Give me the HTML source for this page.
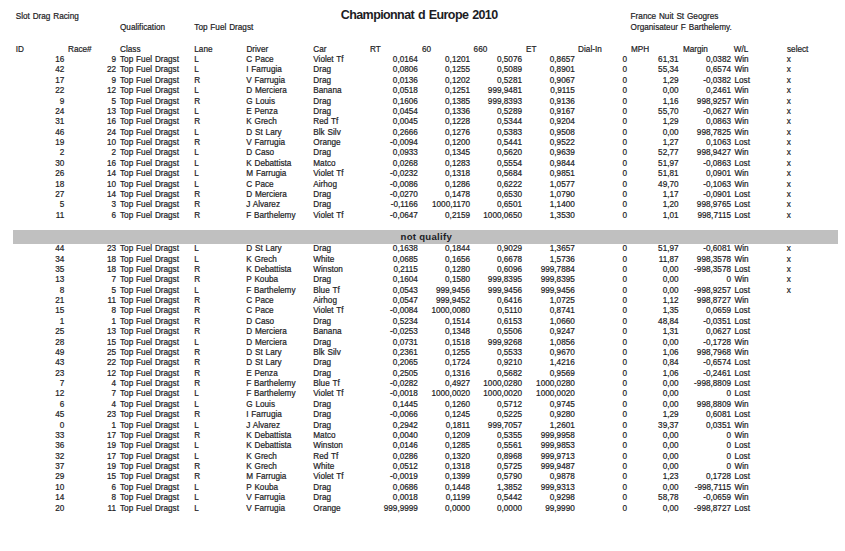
<!DOCTYPE html>
<html><head><meta charset="utf-8"><style>
html,body{margin:0;padding:0;background:#fff;}
body{width:845px;height:551px;position:relative;overflow:hidden;font-family:"Liberation Sans",sans-serif;color:#1c1c24;}
.t,.r,.title,.nq{position:absolute;white-space:nowrap;font-size:8.2px;line-height:10px;}
.r{width:100px;text-align:right;}
.t,.r{-webkit-text-stroke:0.2px #1c1c24;word-spacing:0.6px;}
.title{font-weight:bold;font-size:12.5px;line-height:16px;letter-spacing:-0.6px;word-spacing:1px;}
.nq{font-weight:bold;font-size:9.6px;letter-spacing:0.28px;}
.bar{position:absolute;left:13px;top:230px;width:825px;height:13.7px;background:#c0c0c0;}
</style></head><body>
<div class="bar"></div>
<div class="title" style="left:340.8px;top:6.77px">Championnat d Europe 2010</div>
<div class="nq" style="left:400.5px;top:232.27px">not qualify</div>
<div class="t" style="left:15.70px;top:11.76px">Slot Drag Racing</div>
<div class="t" style="left:120.00px;top:22.76px">Qualification</div>
<div class="t" style="left:194.30px;top:22.76px">Top Fuel Dragst</div>
<div class="t" style="left:630.60px;top:11.76px">France Nuit St Geogres</div>
<div class="t" style="left:630.60px;top:22.76px">Organisateur F Barthelemy.</div>
<div class="t" style="left:15.70px;top:45.16px">ID</div>
<div class="t" style="left:68.00px;top:45.16px">Race#</div>
<div class="t" style="left:120.00px;top:45.16px">Class</div>
<div class="t" style="left:194.30px;top:45.16px">Lane</div>
<div class="t" style="left:246.40px;top:45.16px">Driver</div>
<div class="t" style="left:313.30px;top:45.16px">Car</div>
<div class="t" style="left:370.00px;top:45.16px">RT</div>
<div class="t" style="left:422.00px;top:45.16px">60</div>
<div class="t" style="left:473.60px;top:45.16px">660</div>
<div class="t" style="left:526.00px;top:45.16px">ET</div>
<div class="t" style="left:578.10px;top:45.16px">Dial-In</div>
<div class="t" style="left:630.90px;top:45.16px">MPH</div>
<div class="t" style="left:682.90px;top:45.16px">Margin</div>
<div class="t" style="left:733.70px;top:45.16px">W/L</div>
<div class="t" style="left:787.00px;top:45.16px">select</div>
<div class="r" style="left:-35.70px;top:55.16px">16</div>
<div class="r" style="left:16.00px;top:55.16px">9</div>
<div class="t" style="left:120.00px;top:55.16px">Top Fuel Dragst</div>
<div class="t" style="left:194.30px;top:55.16px">L</div>
<div class="t" style="left:246.20px;top:55.16px">C Pace</div>
<div class="t" style="left:313.30px;top:55.16px">Violet Tf</div>
<div class="r" style="left:317.90px;top:55.16px">0,0164</div>
<div class="r" style="left:370.10px;top:55.16px">0,1201</div>
<div class="r" style="left:422.00px;top:55.16px">0,5076</div>
<div class="r" style="left:474.80px;top:55.16px">0,8657</div>
<div class="r" style="left:527.00px;top:55.16px">0</div>
<div class="r" style="left:578.60px;top:55.16px">61,31</div>
<div class="r" style="left:631.00px;top:55.16px">0,0382</div>
<div class="t" style="left:734.50px;top:55.16px">Win</div>
<div class="t" style="left:786.70px;top:55.16px">x</div>
<div class="r" style="left:-35.70px;top:65.16px">42</div>
<div class="r" style="left:16.00px;top:65.16px">22</div>
<div class="t" style="left:120.00px;top:65.16px">Top Fuel Dragst</div>
<div class="t" style="left:194.30px;top:65.16px">L</div>
<div class="t" style="left:246.20px;top:65.16px">I Farrugia</div>
<div class="t" style="left:313.30px;top:65.16px">Drag</div>
<div class="r" style="left:317.90px;top:65.16px">0,0806</div>
<div class="r" style="left:370.10px;top:65.16px">0,1255</div>
<div class="r" style="left:422.00px;top:65.16px">0,5089</div>
<div class="r" style="left:474.80px;top:65.16px">0,8901</div>
<div class="r" style="left:527.00px;top:65.16px">0</div>
<div class="r" style="left:578.60px;top:65.16px">55,34</div>
<div class="r" style="left:631.00px;top:65.16px">0,6574</div>
<div class="t" style="left:734.50px;top:65.16px">Win</div>
<div class="t" style="left:786.70px;top:65.16px">x</div>
<div class="r" style="left:-35.70px;top:76.16px">17</div>
<div class="r" style="left:16.00px;top:76.16px">9</div>
<div class="t" style="left:120.00px;top:76.16px">Top Fuel Dragst</div>
<div class="t" style="left:194.30px;top:76.16px">R</div>
<div class="t" style="left:246.20px;top:76.16px">V Farrugia</div>
<div class="t" style="left:313.30px;top:76.16px">Drag</div>
<div class="r" style="left:317.90px;top:76.16px">0,0136</div>
<div class="r" style="left:370.10px;top:76.16px">0,1202</div>
<div class="r" style="left:422.00px;top:76.16px">0,5281</div>
<div class="r" style="left:474.80px;top:76.16px">0,9067</div>
<div class="r" style="left:527.00px;top:76.16px">0</div>
<div class="r" style="left:578.60px;top:76.16px">1,29</div>
<div class="r" style="left:631.00px;top:76.16px">-0,0382</div>
<div class="t" style="left:734.50px;top:76.16px">Lost</div>
<div class="t" style="left:786.70px;top:76.16px">x</div>
<div class="r" style="left:-35.70px;top:86.16px">22</div>
<div class="r" style="left:16.00px;top:86.16px">12</div>
<div class="t" style="left:120.00px;top:86.16px">Top Fuel Dragst</div>
<div class="t" style="left:194.30px;top:86.16px">L</div>
<div class="t" style="left:246.20px;top:86.16px">D Merciera</div>
<div class="t" style="left:313.30px;top:86.16px">Banana</div>
<div class="r" style="left:317.90px;top:86.16px">0,0518</div>
<div class="r" style="left:370.10px;top:86.16px">0,1251</div>
<div class="r" style="left:422.00px;top:86.16px">999,9481</div>
<div class="r" style="left:474.80px;top:86.16px">0,9115</div>
<div class="r" style="left:527.00px;top:86.16px">0</div>
<div class="r" style="left:578.60px;top:86.16px">0,00</div>
<div class="r" style="left:631.00px;top:86.16px">0,2461</div>
<div class="t" style="left:734.50px;top:86.16px">Win</div>
<div class="t" style="left:786.70px;top:86.16px">x</div>
<div class="r" style="left:-35.70px;top:97.16px">9</div>
<div class="r" style="left:16.00px;top:97.16px">5</div>
<div class="t" style="left:120.00px;top:97.16px">Top Fuel Dragst</div>
<div class="t" style="left:194.30px;top:97.16px">R</div>
<div class="t" style="left:246.20px;top:97.16px">G Louis</div>
<div class="t" style="left:313.30px;top:97.16px">Drag</div>
<div class="r" style="left:317.90px;top:97.16px">0,1606</div>
<div class="r" style="left:370.10px;top:97.16px">0,1385</div>
<div class="r" style="left:422.00px;top:97.16px">999,8393</div>
<div class="r" style="left:474.80px;top:97.16px">0,9136</div>
<div class="r" style="left:527.00px;top:97.16px">0</div>
<div class="r" style="left:578.60px;top:97.16px">1,16</div>
<div class="r" style="left:631.00px;top:97.16px">998,9257</div>
<div class="t" style="left:734.50px;top:97.16px">Win</div>
<div class="t" style="left:786.70px;top:97.16px">x</div>
<div class="r" style="left:-35.70px;top:107.16px">24</div>
<div class="r" style="left:16.00px;top:107.16px">13</div>
<div class="t" style="left:120.00px;top:107.16px">Top Fuel Dragst</div>
<div class="t" style="left:194.30px;top:107.16px">L</div>
<div class="t" style="left:246.20px;top:107.16px">E Penza</div>
<div class="t" style="left:313.30px;top:107.16px">Drag</div>
<div class="r" style="left:317.90px;top:107.16px">0,0454</div>
<div class="r" style="left:370.10px;top:107.16px">0,1336</div>
<div class="r" style="left:422.00px;top:107.16px">0,5289</div>
<div class="r" style="left:474.80px;top:107.16px">0,9167</div>
<div class="r" style="left:527.00px;top:107.16px">0</div>
<div class="r" style="left:578.60px;top:107.16px">55,70</div>
<div class="r" style="left:631.00px;top:107.16px">-0,0627</div>
<div class="t" style="left:734.50px;top:107.16px">Win</div>
<div class="t" style="left:786.70px;top:107.16px">x</div>
<div class="r" style="left:-35.70px;top:117.16px">31</div>
<div class="r" style="left:16.00px;top:117.16px">16</div>
<div class="t" style="left:120.00px;top:117.16px">Top Fuel Dragst</div>
<div class="t" style="left:194.30px;top:117.16px">R</div>
<div class="t" style="left:246.20px;top:117.16px">K Grech</div>
<div class="t" style="left:313.30px;top:117.16px">Red Tf</div>
<div class="r" style="left:317.90px;top:117.16px">0,0045</div>
<div class="r" style="left:370.10px;top:117.16px">0,1228</div>
<div class="r" style="left:422.00px;top:117.16px">0,5344</div>
<div class="r" style="left:474.80px;top:117.16px">0,9204</div>
<div class="r" style="left:527.00px;top:117.16px">0</div>
<div class="r" style="left:578.60px;top:117.16px">1,29</div>
<div class="r" style="left:631.00px;top:117.16px">0,0863</div>
<div class="t" style="left:734.50px;top:117.16px">Win</div>
<div class="t" style="left:786.70px;top:117.16px">x</div>
<div class="r" style="left:-35.70px;top:128.16px">46</div>
<div class="r" style="left:16.00px;top:128.16px">24</div>
<div class="t" style="left:120.00px;top:128.16px">Top Fuel Dragst</div>
<div class="t" style="left:194.30px;top:128.16px">L</div>
<div class="t" style="left:246.20px;top:128.16px">D St Lary</div>
<div class="t" style="left:313.30px;top:128.16px">Blk Silv</div>
<div class="r" style="left:317.90px;top:128.16px">0,2666</div>
<div class="r" style="left:370.10px;top:128.16px">0,1276</div>
<div class="r" style="left:422.00px;top:128.16px">0,5383</div>
<div class="r" style="left:474.80px;top:128.16px">0,9508</div>
<div class="r" style="left:527.00px;top:128.16px">0</div>
<div class="r" style="left:578.60px;top:128.16px">0,00</div>
<div class="r" style="left:631.00px;top:128.16px">998,7825</div>
<div class="t" style="left:734.50px;top:128.16px">Win</div>
<div class="t" style="left:786.70px;top:128.16px">x</div>
<div class="r" style="left:-35.70px;top:138.16px">19</div>
<div class="r" style="left:16.00px;top:138.16px">10</div>
<div class="t" style="left:120.00px;top:138.16px">Top Fuel Dragst</div>
<div class="t" style="left:194.30px;top:138.16px">R</div>
<div class="t" style="left:246.20px;top:138.16px">V Farrugia</div>
<div class="t" style="left:313.30px;top:138.16px">Orange</div>
<div class="r" style="left:317.90px;top:138.16px">-0,0094</div>
<div class="r" style="left:370.10px;top:138.16px">0,1200</div>
<div class="r" style="left:422.00px;top:138.16px">0,5441</div>
<div class="r" style="left:474.80px;top:138.16px">0,9522</div>
<div class="r" style="left:527.00px;top:138.16px">0</div>
<div class="r" style="left:578.60px;top:138.16px">1,27</div>
<div class="r" style="left:631.00px;top:138.16px">0,1063</div>
<div class="t" style="left:734.50px;top:138.16px">Lost</div>
<div class="t" style="left:786.70px;top:138.16px">x</div>
<div class="r" style="left:-35.70px;top:148.16px">2</div>
<div class="r" style="left:16.00px;top:148.16px">2</div>
<div class="t" style="left:120.00px;top:148.16px">Top Fuel Dragst</div>
<div class="t" style="left:194.30px;top:148.16px">L</div>
<div class="t" style="left:246.20px;top:148.16px">D Caso</div>
<div class="t" style="left:313.30px;top:148.16px">Drag</div>
<div class="r" style="left:317.90px;top:148.16px">0,0933</div>
<div class="r" style="left:370.10px;top:148.16px">0,1345</div>
<div class="r" style="left:422.00px;top:148.16px">0,5620</div>
<div class="r" style="left:474.80px;top:148.16px">0,9639</div>
<div class="r" style="left:527.00px;top:148.16px">0</div>
<div class="r" style="left:578.60px;top:148.16px">52,77</div>
<div class="r" style="left:631.00px;top:148.16px">998,9427</div>
<div class="t" style="left:734.50px;top:148.16px">Win</div>
<div class="t" style="left:786.70px;top:148.16px">x</div>
<div class="r" style="left:-35.70px;top:159.16px">30</div>
<div class="r" style="left:16.00px;top:159.16px">16</div>
<div class="t" style="left:120.00px;top:159.16px">Top Fuel Dragst</div>
<div class="t" style="left:194.30px;top:159.16px">L</div>
<div class="t" style="left:246.20px;top:159.16px">K Debattista</div>
<div class="t" style="left:313.30px;top:159.16px">Matco</div>
<div class="r" style="left:317.90px;top:159.16px">0,0268</div>
<div class="r" style="left:370.10px;top:159.16px">0,1283</div>
<div class="r" style="left:422.00px;top:159.16px">0,5554</div>
<div class="r" style="left:474.80px;top:159.16px">0,9844</div>
<div class="r" style="left:527.00px;top:159.16px">0</div>
<div class="r" style="left:578.60px;top:159.16px">51,97</div>
<div class="r" style="left:631.00px;top:159.16px">-0,0863</div>
<div class="t" style="left:734.50px;top:159.16px">Lost</div>
<div class="t" style="left:786.70px;top:159.16px">x</div>
<div class="r" style="left:-35.70px;top:169.16px">26</div>
<div class="r" style="left:16.00px;top:169.16px">14</div>
<div class="t" style="left:120.00px;top:169.16px">Top Fuel Dragst</div>
<div class="t" style="left:194.30px;top:169.16px">L</div>
<div class="t" style="left:246.20px;top:169.16px">M Farrugia</div>
<div class="t" style="left:313.30px;top:169.16px">Violet Tf</div>
<div class="r" style="left:317.90px;top:169.16px">-0,0232</div>
<div class="r" style="left:370.10px;top:169.16px">0,1318</div>
<div class="r" style="left:422.00px;top:169.16px">0,5684</div>
<div class="r" style="left:474.80px;top:169.16px">0,9851</div>
<div class="r" style="left:527.00px;top:169.16px">0</div>
<div class="r" style="left:578.60px;top:169.16px">51,81</div>
<div class="r" style="left:631.00px;top:169.16px">0,0901</div>
<div class="t" style="left:734.50px;top:169.16px">Win</div>
<div class="t" style="left:786.70px;top:169.16px">x</div>
<div class="r" style="left:-35.70px;top:180.16px">18</div>
<div class="r" style="left:16.00px;top:180.16px">10</div>
<div class="t" style="left:120.00px;top:180.16px">Top Fuel Dragst</div>
<div class="t" style="left:194.30px;top:180.16px">L</div>
<div class="t" style="left:246.20px;top:180.16px">C Pace</div>
<div class="t" style="left:313.30px;top:180.16px">Airhog</div>
<div class="r" style="left:317.90px;top:180.16px">-0,0086</div>
<div class="r" style="left:370.10px;top:180.16px">0,1286</div>
<div class="r" style="left:422.00px;top:180.16px">0,6222</div>
<div class="r" style="left:474.80px;top:180.16px">1,0577</div>
<div class="r" style="left:527.00px;top:180.16px">0</div>
<div class="r" style="left:578.60px;top:180.16px">49,70</div>
<div class="r" style="left:631.00px;top:180.16px">-0,1063</div>
<div class="t" style="left:734.50px;top:180.16px">Win</div>
<div class="t" style="left:786.70px;top:180.16px">x</div>
<div class="r" style="left:-35.70px;top:190.16px">27</div>
<div class="r" style="left:16.00px;top:190.16px">14</div>
<div class="t" style="left:120.00px;top:190.16px">Top Fuel Dragst</div>
<div class="t" style="left:194.30px;top:190.16px">R</div>
<div class="t" style="left:246.20px;top:190.16px">D Merciera</div>
<div class="t" style="left:313.30px;top:190.16px">Drag</div>
<div class="r" style="left:317.90px;top:190.16px">-0,0270</div>
<div class="r" style="left:370.10px;top:190.16px">0,1478</div>
<div class="r" style="left:422.00px;top:190.16px">0,6530</div>
<div class="r" style="left:474.80px;top:190.16px">1,0790</div>
<div class="r" style="left:527.00px;top:190.16px">0</div>
<div class="r" style="left:578.60px;top:190.16px">1,17</div>
<div class="r" style="left:631.00px;top:190.16px">-0,0901</div>
<div class="t" style="left:734.50px;top:190.16px">Lost</div>
<div class="t" style="left:786.70px;top:190.16px">x</div>
<div class="r" style="left:-35.70px;top:200.16px">5</div>
<div class="r" style="left:16.00px;top:200.16px">3</div>
<div class="t" style="left:120.00px;top:200.16px">Top Fuel Dragst</div>
<div class="t" style="left:194.30px;top:200.16px">R</div>
<div class="t" style="left:246.20px;top:200.16px">J Alvarez</div>
<div class="t" style="left:313.30px;top:200.16px">Drag</div>
<div class="r" style="left:317.90px;top:200.16px">-0,1166</div>
<div class="r" style="left:370.10px;top:200.16px">1000,1170</div>
<div class="r" style="left:422.00px;top:200.16px">0,6501</div>
<div class="r" style="left:474.80px;top:200.16px">1,1400</div>
<div class="r" style="left:527.00px;top:200.16px">0</div>
<div class="r" style="left:578.60px;top:200.16px">1,20</div>
<div class="r" style="left:631.00px;top:200.16px">998,9765</div>
<div class="t" style="left:734.50px;top:200.16px">Lost</div>
<div class="t" style="left:786.70px;top:200.16px">x</div>
<div class="r" style="left:-35.70px;top:211.16px">11</div>
<div class="r" style="left:16.00px;top:211.16px">6</div>
<div class="t" style="left:120.00px;top:211.16px">Top Fuel Dragst</div>
<div class="t" style="left:194.30px;top:211.16px">R</div>
<div class="t" style="left:246.20px;top:211.16px">F Barthelemy</div>
<div class="t" style="left:313.30px;top:211.16px">Violet Tf</div>
<div class="r" style="left:317.90px;top:211.16px">-0,0647</div>
<div class="r" style="left:370.10px;top:211.16px">0,2159</div>
<div class="r" style="left:422.00px;top:211.16px">1000,0650</div>
<div class="r" style="left:474.80px;top:211.16px">1,3530</div>
<div class="r" style="left:527.00px;top:211.16px">0</div>
<div class="r" style="left:578.60px;top:211.16px">1,01</div>
<div class="r" style="left:631.00px;top:211.16px">998,7115</div>
<div class="t" style="left:734.50px;top:211.16px">Lost</div>
<div class="t" style="left:786.70px;top:211.16px">x</div>
<div class="r" style="left:-35.70px;top:244.16px">44</div>
<div class="r" style="left:16.00px;top:244.16px">23</div>
<div class="t" style="left:120.00px;top:244.16px">Top Fuel Dragst</div>
<div class="t" style="left:194.30px;top:244.16px">L</div>
<div class="t" style="left:246.20px;top:244.16px">D St Lary</div>
<div class="t" style="left:313.30px;top:244.16px">Drag</div>
<div class="r" style="left:317.90px;top:244.16px">0,1638</div>
<div class="r" style="left:370.10px;top:244.16px">0,1844</div>
<div class="r" style="left:422.00px;top:244.16px">0,9029</div>
<div class="r" style="left:474.80px;top:244.16px">1,3657</div>
<div class="r" style="left:527.00px;top:244.16px">0</div>
<div class="r" style="left:578.60px;top:244.16px">51,97</div>
<div class="r" style="left:631.00px;top:244.16px">-0,6081</div>
<div class="t" style="left:734.50px;top:244.16px">Win</div>
<div class="t" style="left:786.70px;top:244.16px">x</div>
<div class="r" style="left:-35.70px;top:255.16px">34</div>
<div class="r" style="left:16.00px;top:255.16px">18</div>
<div class="t" style="left:120.00px;top:255.16px">Top Fuel Dragst</div>
<div class="t" style="left:194.30px;top:255.16px">L</div>
<div class="t" style="left:246.20px;top:255.16px">K Grech</div>
<div class="t" style="left:313.30px;top:255.16px">White</div>
<div class="r" style="left:317.90px;top:255.16px">0,0685</div>
<div class="r" style="left:370.10px;top:255.16px">0,1656</div>
<div class="r" style="left:422.00px;top:255.16px">0,6678</div>
<div class="r" style="left:474.80px;top:255.16px">1,5736</div>
<div class="r" style="left:527.00px;top:255.16px">0</div>
<div class="r" style="left:578.60px;top:255.16px">11,87</div>
<div class="r" style="left:631.00px;top:255.16px">998,3578</div>
<div class="t" style="left:734.50px;top:255.16px">Win</div>
<div class="t" style="left:786.70px;top:255.16px">x</div>
<div class="r" style="left:-35.70px;top:265.16px">35</div>
<div class="r" style="left:16.00px;top:265.16px">18</div>
<div class="t" style="left:120.00px;top:265.16px">Top Fuel Dragst</div>
<div class="t" style="left:194.30px;top:265.16px">R</div>
<div class="t" style="left:246.20px;top:265.16px">K Debattista</div>
<div class="t" style="left:313.30px;top:265.16px">Winston</div>
<div class="r" style="left:317.90px;top:265.16px">0,2115</div>
<div class="r" style="left:370.10px;top:265.16px">0,1280</div>
<div class="r" style="left:422.00px;top:265.16px">0,6096</div>
<div class="r" style="left:474.80px;top:265.16px">999,7884</div>
<div class="r" style="left:527.00px;top:265.16px">0</div>
<div class="r" style="left:578.60px;top:265.16px">0,00</div>
<div class="r" style="left:631.00px;top:265.16px">-998,3578</div>
<div class="t" style="left:734.50px;top:265.16px">Lost</div>
<div class="t" style="left:786.70px;top:265.16px">x</div>
<div class="r" style="left:-35.70px;top:275.16px">13</div>
<div class="r" style="left:16.00px;top:275.16px">7</div>
<div class="t" style="left:120.00px;top:275.16px">Top Fuel Dragst</div>
<div class="t" style="left:194.30px;top:275.16px">R</div>
<div class="t" style="left:246.20px;top:275.16px">P Kouba</div>
<div class="t" style="left:313.30px;top:275.16px">Drag</div>
<div class="r" style="left:317.90px;top:275.16px">0,1604</div>
<div class="r" style="left:370.10px;top:275.16px">0,1580</div>
<div class="r" style="left:422.00px;top:275.16px">999,8395</div>
<div class="r" style="left:474.80px;top:275.16px">999,8395</div>
<div class="r" style="left:527.00px;top:275.16px">0</div>
<div class="r" style="left:578.60px;top:275.16px">0,00</div>
<div class="r" style="left:631.00px;top:275.16px">0</div>
<div class="t" style="left:734.50px;top:275.16px">Win</div>
<div class="t" style="left:786.70px;top:275.16px">x</div>
<div class="r" style="left:-35.70px;top:286.16px">8</div>
<div class="r" style="left:16.00px;top:286.16px">5</div>
<div class="t" style="left:120.00px;top:286.16px">Top Fuel Dragst</div>
<div class="t" style="left:194.30px;top:286.16px">L</div>
<div class="t" style="left:246.20px;top:286.16px">F Barthelemy</div>
<div class="t" style="left:313.30px;top:286.16px">Blue Tf</div>
<div class="r" style="left:317.90px;top:286.16px">0,0543</div>
<div class="r" style="left:370.10px;top:286.16px">999,9456</div>
<div class="r" style="left:422.00px;top:286.16px">999,9456</div>
<div class="r" style="left:474.80px;top:286.16px">999,9456</div>
<div class="r" style="left:527.00px;top:286.16px">0</div>
<div class="r" style="left:578.60px;top:286.16px">0,00</div>
<div class="r" style="left:631.00px;top:286.16px">-998,9257</div>
<div class="t" style="left:734.50px;top:286.16px">Lost</div>
<div class="t" style="left:786.70px;top:286.16px">x</div>
<div class="r" style="left:-35.70px;top:296.16px">21</div>
<div class="r" style="left:16.00px;top:296.16px">11</div>
<div class="t" style="left:120.00px;top:296.16px">Top Fuel Dragst</div>
<div class="t" style="left:194.30px;top:296.16px">R</div>
<div class="t" style="left:246.20px;top:296.16px">C Pace</div>
<div class="t" style="left:313.30px;top:296.16px">Airhog</div>
<div class="r" style="left:317.90px;top:296.16px">0,0547</div>
<div class="r" style="left:370.10px;top:296.16px">999,9452</div>
<div class="r" style="left:422.00px;top:296.16px">0,6416</div>
<div class="r" style="left:474.80px;top:296.16px">1,0725</div>
<div class="r" style="left:527.00px;top:296.16px">0</div>
<div class="r" style="left:578.60px;top:296.16px">1,12</div>
<div class="r" style="left:631.00px;top:296.16px">998,8727</div>
<div class="t" style="left:734.50px;top:296.16px">Win</div>
<div class="r" style="left:-35.70px;top:306.16px">15</div>
<div class="r" style="left:16.00px;top:306.16px">8</div>
<div class="t" style="left:120.00px;top:306.16px">Top Fuel Dragst</div>
<div class="t" style="left:194.30px;top:306.16px">R</div>
<div class="t" style="left:246.20px;top:306.16px">C Pace</div>
<div class="t" style="left:313.30px;top:306.16px">Violet Tf</div>
<div class="r" style="left:317.90px;top:306.16px">-0,0084</div>
<div class="r" style="left:370.10px;top:306.16px">1000,0080</div>
<div class="r" style="left:422.00px;top:306.16px">0,5110</div>
<div class="r" style="left:474.80px;top:306.16px">0,8741</div>
<div class="r" style="left:527.00px;top:306.16px">0</div>
<div class="r" style="left:578.60px;top:306.16px">1,35</div>
<div class="r" style="left:631.00px;top:306.16px">0,0659</div>
<div class="t" style="left:734.50px;top:306.16px">Lost</div>
<div class="r" style="left:-35.70px;top:317.16px">1</div>
<div class="r" style="left:16.00px;top:317.16px">1</div>
<div class="t" style="left:120.00px;top:317.16px">Top Fuel Dragst</div>
<div class="t" style="left:194.30px;top:317.16px">R</div>
<div class="t" style="left:246.20px;top:317.16px">D Caso</div>
<div class="t" style="left:313.30px;top:317.16px">Drag</div>
<div class="r" style="left:317.90px;top:317.16px">0,5234</div>
<div class="r" style="left:370.10px;top:317.16px">0,1514</div>
<div class="r" style="left:422.00px;top:317.16px">0,6153</div>
<div class="r" style="left:474.80px;top:317.16px">1,0660</div>
<div class="r" style="left:527.00px;top:317.16px">0</div>
<div class="r" style="left:578.60px;top:317.16px">48,84</div>
<div class="r" style="left:631.00px;top:317.16px">-0,0351</div>
<div class="t" style="left:734.50px;top:317.16px">Lost</div>
<div class="r" style="left:-35.70px;top:327.16px">25</div>
<div class="r" style="left:16.00px;top:327.16px">13</div>
<div class="t" style="left:120.00px;top:327.16px">Top Fuel Dragst</div>
<div class="t" style="left:194.30px;top:327.16px">R</div>
<div class="t" style="left:246.20px;top:327.16px">D Merciera</div>
<div class="t" style="left:313.30px;top:327.16px">Banana</div>
<div class="r" style="left:317.90px;top:327.16px">-0,0253</div>
<div class="r" style="left:370.10px;top:327.16px">0,1348</div>
<div class="r" style="left:422.00px;top:327.16px">0,5506</div>
<div class="r" style="left:474.80px;top:327.16px">0,9247</div>
<div class="r" style="left:527.00px;top:327.16px">0</div>
<div class="r" style="left:578.60px;top:327.16px">1,31</div>
<div class="r" style="left:631.00px;top:327.16px">0,0627</div>
<div class="t" style="left:734.50px;top:327.16px">Lost</div>
<div class="r" style="left:-35.70px;top:338.16px">28</div>
<div class="r" style="left:16.00px;top:338.16px">15</div>
<div class="t" style="left:120.00px;top:338.16px">Top Fuel Dragst</div>
<div class="t" style="left:194.30px;top:338.16px">L</div>
<div class="t" style="left:246.20px;top:338.16px">D Merciera</div>
<div class="t" style="left:313.30px;top:338.16px">Drag</div>
<div class="r" style="left:317.90px;top:338.16px">0,0731</div>
<div class="r" style="left:370.10px;top:338.16px">0,1518</div>
<div class="r" style="left:422.00px;top:338.16px">999,9268</div>
<div class="r" style="left:474.80px;top:338.16px">1,0856</div>
<div class="r" style="left:527.00px;top:338.16px">0</div>
<div class="r" style="left:578.60px;top:338.16px">0,00</div>
<div class="r" style="left:631.00px;top:338.16px">-0,1728</div>
<div class="t" style="left:734.50px;top:338.16px">Win</div>
<div class="r" style="left:-35.70px;top:348.16px">49</div>
<div class="r" style="left:16.00px;top:348.16px">25</div>
<div class="t" style="left:120.00px;top:348.16px">Top Fuel Dragst</div>
<div class="t" style="left:194.30px;top:348.16px">R</div>
<div class="t" style="left:246.20px;top:348.16px">D St Lary</div>
<div class="t" style="left:313.30px;top:348.16px">Blk Silv</div>
<div class="r" style="left:317.90px;top:348.16px">0,2361</div>
<div class="r" style="left:370.10px;top:348.16px">0,1255</div>
<div class="r" style="left:422.00px;top:348.16px">0,5533</div>
<div class="r" style="left:474.80px;top:348.16px">0,9670</div>
<div class="r" style="left:527.00px;top:348.16px">0</div>
<div class="r" style="left:578.60px;top:348.16px">1,06</div>
<div class="r" style="left:631.00px;top:348.16px">998,7968</div>
<div class="t" style="left:734.50px;top:348.16px">Win</div>
<div class="r" style="left:-35.70px;top:358.16px">43</div>
<div class="r" style="left:16.00px;top:358.16px">22</div>
<div class="t" style="left:120.00px;top:358.16px">Top Fuel Dragst</div>
<div class="t" style="left:194.30px;top:358.16px">R</div>
<div class="t" style="left:246.20px;top:358.16px">D St Lary</div>
<div class="t" style="left:313.30px;top:358.16px">Drag</div>
<div class="r" style="left:317.90px;top:358.16px">0,2065</div>
<div class="r" style="left:370.10px;top:358.16px">0,1724</div>
<div class="r" style="left:422.00px;top:358.16px">0,9210</div>
<div class="r" style="left:474.80px;top:358.16px">1,4216</div>
<div class="r" style="left:527.00px;top:358.16px">0</div>
<div class="r" style="left:578.60px;top:358.16px">0,84</div>
<div class="r" style="left:631.00px;top:358.16px">-0,6574</div>
<div class="t" style="left:734.50px;top:358.16px">Lost</div>
<div class="r" style="left:-35.70px;top:369.16px">23</div>
<div class="r" style="left:16.00px;top:369.16px">12</div>
<div class="t" style="left:120.00px;top:369.16px">Top Fuel Dragst</div>
<div class="t" style="left:194.30px;top:369.16px">R</div>
<div class="t" style="left:246.20px;top:369.16px">E Penza</div>
<div class="t" style="left:313.30px;top:369.16px">Drag</div>
<div class="r" style="left:317.90px;top:369.16px">0,2505</div>
<div class="r" style="left:370.10px;top:369.16px">0,1316</div>
<div class="r" style="left:422.00px;top:369.16px">0,5682</div>
<div class="r" style="left:474.80px;top:369.16px">0,9569</div>
<div class="r" style="left:527.00px;top:369.16px">0</div>
<div class="r" style="left:578.60px;top:369.16px">1,06</div>
<div class="r" style="left:631.00px;top:369.16px">-0,2461</div>
<div class="t" style="left:734.50px;top:369.16px">Lost</div>
<div class="r" style="left:-35.70px;top:379.16px">7</div>
<div class="r" style="left:16.00px;top:379.16px">4</div>
<div class="t" style="left:120.00px;top:379.16px">Top Fuel Dragst</div>
<div class="t" style="left:194.30px;top:379.16px">R</div>
<div class="t" style="left:246.20px;top:379.16px">F Barthelemy</div>
<div class="t" style="left:313.30px;top:379.16px">Blue Tf</div>
<div class="r" style="left:317.90px;top:379.16px">-0,0282</div>
<div class="r" style="left:370.10px;top:379.16px">0,4927</div>
<div class="r" style="left:422.00px;top:379.16px">1000,0280</div>
<div class="r" style="left:474.80px;top:379.16px">1000,0280</div>
<div class="r" style="left:527.00px;top:379.16px">0</div>
<div class="r" style="left:578.60px;top:379.16px">0,00</div>
<div class="r" style="left:631.00px;top:379.16px">-998,8809</div>
<div class="t" style="left:734.50px;top:379.16px">Lost</div>
<div class="r" style="left:-35.70px;top:389.16px">12</div>
<div class="r" style="left:16.00px;top:389.16px">7</div>
<div class="t" style="left:120.00px;top:389.16px">Top Fuel Dragst</div>
<div class="t" style="left:194.30px;top:389.16px">L</div>
<div class="t" style="left:246.20px;top:389.16px">F Barthelemy</div>
<div class="t" style="left:313.30px;top:389.16px">Violet Tf</div>
<div class="r" style="left:317.90px;top:389.16px">-0,0018</div>
<div class="r" style="left:370.10px;top:389.16px">1000,0020</div>
<div class="r" style="left:422.00px;top:389.16px">1000,0020</div>
<div class="r" style="left:474.80px;top:389.16px">1000,0020</div>
<div class="r" style="left:527.00px;top:389.16px">0</div>
<div class="r" style="left:578.60px;top:389.16px">0,00</div>
<div class="r" style="left:631.00px;top:389.16px">0</div>
<div class="t" style="left:734.50px;top:389.16px">Lost</div>
<div class="r" style="left:-35.70px;top:400.16px">6</div>
<div class="r" style="left:16.00px;top:400.16px">4</div>
<div class="t" style="left:120.00px;top:400.16px">Top Fuel Dragst</div>
<div class="t" style="left:194.30px;top:400.16px">L</div>
<div class="t" style="left:246.20px;top:400.16px">G Louis</div>
<div class="t" style="left:313.30px;top:400.16px">Drag</div>
<div class="r" style="left:317.90px;top:400.16px">0,1445</div>
<div class="r" style="left:370.10px;top:400.16px">0,1260</div>
<div class="r" style="left:422.00px;top:400.16px">0,5712</div>
<div class="r" style="left:474.80px;top:400.16px">0,9745</div>
<div class="r" style="left:527.00px;top:400.16px">0</div>
<div class="r" style="left:578.60px;top:400.16px">0,00</div>
<div class="r" style="left:631.00px;top:400.16px">998,8809</div>
<div class="t" style="left:734.50px;top:400.16px">Win</div>
<div class="r" style="left:-35.70px;top:410.16px">45</div>
<div class="r" style="left:16.00px;top:410.16px">23</div>
<div class="t" style="left:120.00px;top:410.16px">Top Fuel Dragst</div>
<div class="t" style="left:194.30px;top:410.16px">R</div>
<div class="t" style="left:246.20px;top:410.16px">I Farrugia</div>
<div class="t" style="left:313.30px;top:410.16px">Drag</div>
<div class="r" style="left:317.90px;top:410.16px">-0,0066</div>
<div class="r" style="left:370.10px;top:410.16px">0,1245</div>
<div class="r" style="left:422.00px;top:410.16px">0,5225</div>
<div class="r" style="left:474.80px;top:410.16px">0,9280</div>
<div class="r" style="left:527.00px;top:410.16px">0</div>
<div class="r" style="left:578.60px;top:410.16px">1,29</div>
<div class="r" style="left:631.00px;top:410.16px">0,6081</div>
<div class="t" style="left:734.50px;top:410.16px">Lost</div>
<div class="r" style="left:-35.70px;top:421.16px">0</div>
<div class="r" style="left:16.00px;top:421.16px">1</div>
<div class="t" style="left:120.00px;top:421.16px">Top Fuel Dragst</div>
<div class="t" style="left:194.30px;top:421.16px">L</div>
<div class="t" style="left:246.20px;top:421.16px">J Alvarez</div>
<div class="t" style="left:313.30px;top:421.16px">Drag</div>
<div class="r" style="left:317.90px;top:421.16px">0,2942</div>
<div class="r" style="left:370.10px;top:421.16px">0,1811</div>
<div class="r" style="left:422.00px;top:421.16px">999,7057</div>
<div class="r" style="left:474.80px;top:421.16px">1,2601</div>
<div class="r" style="left:527.00px;top:421.16px">0</div>
<div class="r" style="left:578.60px;top:421.16px">39,37</div>
<div class="r" style="left:631.00px;top:421.16px">0,0351</div>
<div class="t" style="left:734.50px;top:421.16px">Win</div>
<div class="r" style="left:-35.70px;top:431.16px">33</div>
<div class="r" style="left:16.00px;top:431.16px">17</div>
<div class="t" style="left:120.00px;top:431.16px">Top Fuel Dragst</div>
<div class="t" style="left:194.30px;top:431.16px">R</div>
<div class="t" style="left:246.20px;top:431.16px">K Debattista</div>
<div class="t" style="left:313.30px;top:431.16px">Matco</div>
<div class="r" style="left:317.90px;top:431.16px">0,0040</div>
<div class="r" style="left:370.10px;top:431.16px">0,1209</div>
<div class="r" style="left:422.00px;top:431.16px">0,5355</div>
<div class="r" style="left:474.80px;top:431.16px">999,9958</div>
<div class="r" style="left:527.00px;top:431.16px">0</div>
<div class="r" style="left:578.60px;top:431.16px">0,00</div>
<div class="r" style="left:631.00px;top:431.16px">0</div>
<div class="t" style="left:734.50px;top:431.16px">Win</div>
<div class="r" style="left:-35.70px;top:441.16px">36</div>
<div class="r" style="left:16.00px;top:441.16px">19</div>
<div class="t" style="left:120.00px;top:441.16px">Top Fuel Dragst</div>
<div class="t" style="left:194.30px;top:441.16px">L</div>
<div class="t" style="left:246.20px;top:441.16px">K Debattista</div>
<div class="t" style="left:313.30px;top:441.16px">Winston</div>
<div class="r" style="left:317.90px;top:441.16px">0,0146</div>
<div class="r" style="left:370.10px;top:441.16px">0,1285</div>
<div class="r" style="left:422.00px;top:441.16px">0,5561</div>
<div class="r" style="left:474.80px;top:441.16px">999,9853</div>
<div class="r" style="left:527.00px;top:441.16px">0</div>
<div class="r" style="left:578.60px;top:441.16px">0,00</div>
<div class="r" style="left:631.00px;top:441.16px">0</div>
<div class="t" style="left:734.50px;top:441.16px">Lost</div>
<div class="r" style="left:-35.70px;top:452.16px">32</div>
<div class="r" style="left:16.00px;top:452.16px">17</div>
<div class="t" style="left:120.00px;top:452.16px">Top Fuel Dragst</div>
<div class="t" style="left:194.30px;top:452.16px">L</div>
<div class="t" style="left:246.20px;top:452.16px">K Grech</div>
<div class="t" style="left:313.30px;top:452.16px">Red Tf</div>
<div class="r" style="left:317.90px;top:452.16px">0,0286</div>
<div class="r" style="left:370.10px;top:452.16px">0,1320</div>
<div class="r" style="left:422.00px;top:452.16px">0,8968</div>
<div class="r" style="left:474.80px;top:452.16px">999,9713</div>
<div class="r" style="left:527.00px;top:452.16px">0</div>
<div class="r" style="left:578.60px;top:452.16px">0,00</div>
<div class="r" style="left:631.00px;top:452.16px">0</div>
<div class="t" style="left:734.50px;top:452.16px">Lost</div>
<div class="r" style="left:-35.70px;top:462.16px">37</div>
<div class="r" style="left:16.00px;top:462.16px">19</div>
<div class="t" style="left:120.00px;top:462.16px">Top Fuel Dragst</div>
<div class="t" style="left:194.30px;top:462.16px">R</div>
<div class="t" style="left:246.20px;top:462.16px">K Grech</div>
<div class="t" style="left:313.30px;top:462.16px">White</div>
<div class="r" style="left:317.90px;top:462.16px">0,0512</div>
<div class="r" style="left:370.10px;top:462.16px">0,1318</div>
<div class="r" style="left:422.00px;top:462.16px">0,5725</div>
<div class="r" style="left:474.80px;top:462.16px">999,9487</div>
<div class="r" style="left:527.00px;top:462.16px">0</div>
<div class="r" style="left:578.60px;top:462.16px">0,00</div>
<div class="r" style="left:631.00px;top:462.16px">0</div>
<div class="t" style="left:734.50px;top:462.16px">Win</div>
<div class="r" style="left:-35.70px;top:472.16px">29</div>
<div class="r" style="left:16.00px;top:472.16px">15</div>
<div class="t" style="left:120.00px;top:472.16px">Top Fuel Dragst</div>
<div class="t" style="left:194.30px;top:472.16px">R</div>
<div class="t" style="left:246.20px;top:472.16px">M Farrugia</div>
<div class="t" style="left:313.30px;top:472.16px">Violet Tf</div>
<div class="r" style="left:317.90px;top:472.16px">-0,0019</div>
<div class="r" style="left:370.10px;top:472.16px">0,1399</div>
<div class="r" style="left:422.00px;top:472.16px">0,5790</div>
<div class="r" style="left:474.80px;top:472.16px">0,9878</div>
<div class="r" style="left:527.00px;top:472.16px">0</div>
<div class="r" style="left:578.60px;top:472.16px">1,23</div>
<div class="r" style="left:631.00px;top:472.16px">0,1728</div>
<div class="t" style="left:734.50px;top:472.16px">Lost</div>
<div class="r" style="left:-35.70px;top:483.16px">10</div>
<div class="r" style="left:16.00px;top:483.16px">6</div>
<div class="t" style="left:120.00px;top:483.16px">Top Fuel Dragst</div>
<div class="t" style="left:194.30px;top:483.16px">L</div>
<div class="t" style="left:246.20px;top:483.16px">P Kouba</div>
<div class="t" style="left:313.30px;top:483.16px">Drag</div>
<div class="r" style="left:317.90px;top:483.16px">0,0686</div>
<div class="r" style="left:370.10px;top:483.16px">0,1448</div>
<div class="r" style="left:422.00px;top:483.16px">1,3852</div>
<div class="r" style="left:474.80px;top:483.16px">999,9313</div>
<div class="r" style="left:527.00px;top:483.16px">0</div>
<div class="r" style="left:578.60px;top:483.16px">0,00</div>
<div class="r" style="left:631.00px;top:483.16px">-998,7115</div>
<div class="t" style="left:734.50px;top:483.16px">Win</div>
<div class="r" style="left:-35.70px;top:493.16px">14</div>
<div class="r" style="left:16.00px;top:493.16px">8</div>
<div class="t" style="left:120.00px;top:493.16px">Top Fuel Dragst</div>
<div class="t" style="left:194.30px;top:493.16px">L</div>
<div class="t" style="left:246.20px;top:493.16px">V Farrugia</div>
<div class="t" style="left:313.30px;top:493.16px">Drag</div>
<div class="r" style="left:317.90px;top:493.16px">0,0018</div>
<div class="r" style="left:370.10px;top:493.16px">0,1199</div>
<div class="r" style="left:422.00px;top:493.16px">0,5442</div>
<div class="r" style="left:474.80px;top:493.16px">0,9298</div>
<div class="r" style="left:527.00px;top:493.16px">0</div>
<div class="r" style="left:578.60px;top:493.16px">58,78</div>
<div class="r" style="left:631.00px;top:493.16px">-0,0659</div>
<div class="t" style="left:734.50px;top:493.16px">Win</div>
<div class="r" style="left:-35.70px;top:504.16px">20</div>
<div class="r" style="left:16.00px;top:504.16px">11</div>
<div class="t" style="left:120.00px;top:504.16px">Top Fuel Dragst</div>
<div class="t" style="left:194.30px;top:504.16px">L</div>
<div class="t" style="left:246.20px;top:504.16px">V Farrugia</div>
<div class="t" style="left:313.30px;top:504.16px">Orange</div>
<div class="r" style="left:317.90px;top:504.16px">999,9999</div>
<div class="r" style="left:370.10px;top:504.16px">0,0000</div>
<div class="r" style="left:422.00px;top:504.16px">0,0000</div>
<div class="r" style="left:474.80px;top:504.16px">99,9990</div>
<div class="r" style="left:527.00px;top:504.16px">0</div>
<div class="r" style="left:578.60px;top:504.16px">0,00</div>
<div class="r" style="left:631.00px;top:504.16px">-998,8727</div>
<div class="t" style="left:734.50px;top:504.16px">Lost</div>
</body></html>
